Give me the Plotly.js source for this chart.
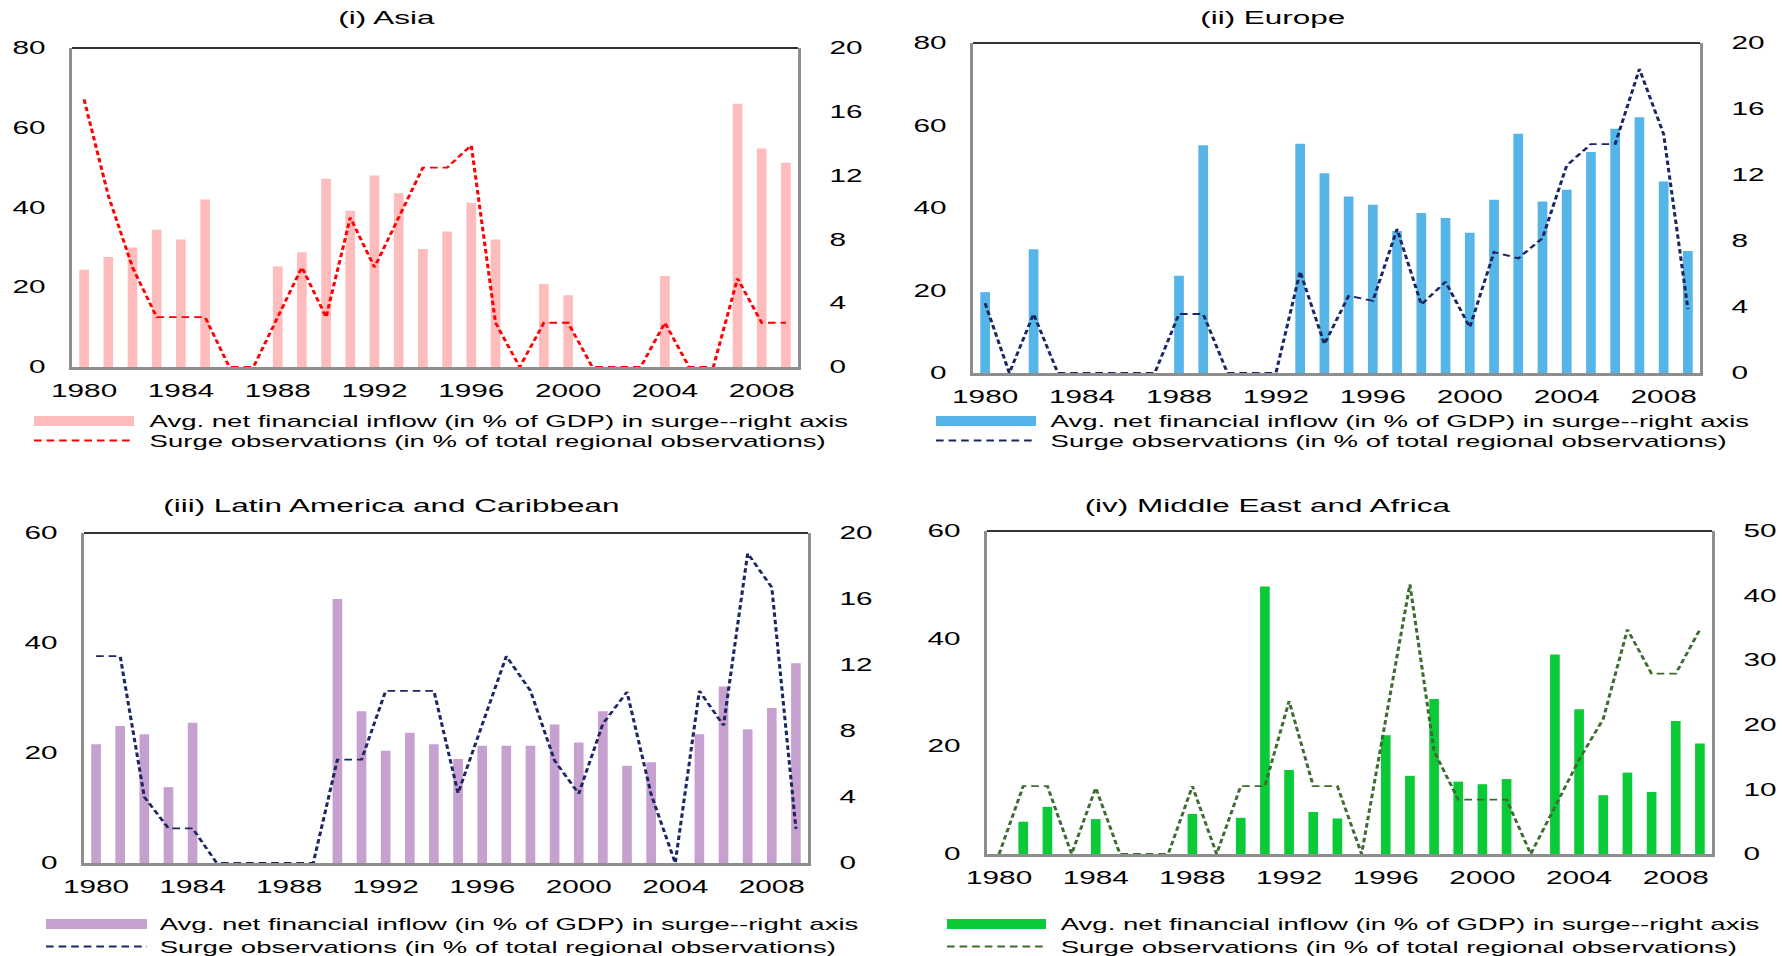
<!DOCTYPE html>
<html><head><meta charset="utf-8">
<script src="https://cdn.plot.ly/plotly-3.0.1.min.js"></script>
<style>
html,body{margin:0;padding:0;overflow:hidden;background:#fff}
#wrap{width:1050px;height:956px;transform:scaleX(1.7);transform-origin:0 0}
#chart{width:1050px;height:956px}
</style></head>
<body><div id="wrap"><div id="chart"></div></div>
<script>
// ---------------- data ----------------
const years = [1980,1981,1982,1983,1984,1985,1986,1987,1988,1989,1990,1991,1992,1993,1994,1995,1996,1997,1998,1999,2000,2001,2002,2003,2004,2005,2006,2007,2008,2009];
const tickYears = [1980,1984,1988,1992,1996,2000,2004,2008];

const barLabel = 'Avg. net financial inflow (in % of GDP) in surge--right axis';
const lineLabel = 'Surge observations (in % of total regional observations)';

// (i) Asia
const asiaSurge  = [67.1,43,25,12.5,12.5,12.5,0,0,12.5,25,12.5,37.5,25,37.5,50,50,55.6,11.1,0,11.1,11.1,0,0,0,11.1,0,0,22.2,11.1,11.1];
const asiaInflow = [6.1,6.9,7.5,8.6,8.0,10.5,0,0,6.3,7.2,11.8,9.8,12.0,10.9,7.4,8.5,10.3,8.0,0,5.2,4.5,0,0,0,5.7,0,0,16.5,13.7,12.8];
// (ii) Europe
const europeSurge  = [16.9,0,14.3,0,0,0,0,0,14.3,14.3,0,0,0,24.6,7.0,18.7,17.5,34.9,16.6,22.1,11.1,29.3,27.8,32.7,50.3,55.5,55.5,73.7,57.9,15.5];
const europeInflow = [4.9,0,7.5,0,0,0,0,0,5.9,13.8,0,0,0,13.9,12.1,10.7,10.2,8.6,9.7,9.4,8.5,10.5,14.5,10.4,11.1,13.4,14.8,15.5,11.6,7.4];
// (iii) Latin America and Caribbean
const latamSurge  = [37.6,37.6,12.0,6.3,6.3,0,0,0,0,0,18.8,18.8,31.3,31.3,31.3,12.7,25,37.6,31.3,18.6,12.6,25.3,31.1,12.5,0,31.3,25,56.3,50.1,6.2];
const latamInflow = [7.2,8.3,7.8,4.6,8.5,0,0,0,0,0,16.0,9.2,6.8,7.9,7.2,6.3,7.1,7.1,7.1,8.4,7.3,9.2,5.9,6.1,0,7.8,10.7,8.1,9.4,12.1];
// (iv) Middle East and Africa
const meaSurge  = [0,12.6,12.6,0,12.3,0,0,0,12.6,0,12.6,12.6,28.4,12.6,12.6,0,25,50.1,19.1,10.1,10.1,10.1,0,8.6,17.5,25.1,41.7,33.5,33.5,41.7];
const meaInflow = [0,5.0,7.3,0,5.4,0,0,0,6.2,0,5.6,41.4,13.0,6.5,5.5,0,18.4,12.1,24.0,11.2,10.8,11.6,0,30.9,22.4,9.1,12.6,9.6,20.6,17.1];

// ---------------- layout helpers ----------------
const FW = 1785, H = 956;
const px = x => x / FW;
const py = y => 1 - y / H;
const FONT = 'Liberation Sans, Arial, sans-serif';
const AXIS_GRAY = '#8e8e8e';

const panels = [
  {title:'(i) Asia', surge:asiaSurge, inflow:asiaInflow, bar:'#FFBCBC', line:'#FF0000',
   box:[72,798,48,367], left:[0,80], leftD:20, right:[0,20], rightD:4,
   tpos:[386,17], leg:{x0:34,x1:134,tx:146,r1:421,r2:440.5}},
  {title:'(ii) Europe', surge:europeSurge, inflow:europeInflow, bar:'#55B5E8', line:'#1C2660',
   box:[973,1700,43,373], left:[0,80], leftD:20, right:[0,20], rightD:4,
   tpos:[1272,17], leg:{x0:936,x1:1036,tx:1047,r1:421,r2:440.5}},
  {title:'(iii) Latin America and Caribbean', surge:latamSurge, inflow:latamInflow, bar:'#C6A0CF', line:'#1C2660',
   box:[84,808,533,863], left:[0,60], leftD:20, right:[0,20], rightD:4,
   tpos:[391,505], leg:{x0:46,x1:147,tx:157,r1:924,r2:946.5}},
  {title:'(iv) Middle East and Africa', surge:meaSurge, inflow:meaInflow, bar:'#0ACB37', line:'#3E6B30',
   box:[987,1712,531,854], left:[0,60], leftD:20, right:[0,50], rightD:10,
   tpos:[1268,505], leg:{x0:947,x1:1046,tx:1058,r1:924,r2:946.5}}
];

const data = [];
const layout = {
  width:1050, height:956, margin:{l:0,r:0,t:0,b:0},
  paper_bgcolor:'#fff', plot_bgcolor:'rgba(0,0,0,0)',
  showlegend:false, font:{family:FONT, color:'#000', size:17.5},
  shapes:[], annotations:[]
};

panels.forEach((p, i) => {
  const xs = i === 0 ? '' : String(i + 1);
  const yb = 2 * i + 1 === 1 ? '' : String(2 * i + 1);
  const yl = String(2 * i + 2);
  const xId = 'x' + xs, ybId = 'y' + yb, ylId = 'y' + yl;
  const [l, r, t, b] = p.box;

  data.push({type:'bar', name:barLabel, x:years, y:p.inflow, xaxis:xId, yaxis:ybId,
             marker:{color:p.bar, line:{width:0}}, width:0.4, hoverinfo:'x+y'});
  data.push({type:'scatter', mode:'lines', name:lineLabel, x:years, y:p.surge, xaxis:xId, yaxis:ylId,
             line:{color:p.line, width:1.8, dash:'4.5px,2.9px'}, hoverinfo:'x+y'});

  const common = {showgrid:false, zeroline:false, ticks:'', showline:true, linecolor:AXIS_GRAY,
                  tickfont:{family:FONT, size:17.5, color:'#000'}, fixedrange:true};
  layout['xaxis' + xs] = Object.assign({}, common, {
    domain:[px(l), px(r)], anchor:ybId, range:[1979.5, 2009.5],
    tickmode:'array', tickvals:tickYears, linewidth:3, ticklabelstandoff:6
  });
  layout['yaxis' + yb] = Object.assign({}, common, {
    domain:[py(b), py(t)], anchor:xId, side:'right', range:p.right, dtick:p.rightD,
    tickmode:'linear', tick0:0, linewidth:2, ticklabelstandoff:13
  });
  layout['yaxis' + yl] = Object.assign({}, common, {
    overlaying:ybId, anchor:xId, side:'left', range:p.left, dtick:p.leftD,
    tickmode:'linear', tick0:0, linewidth:2, ticklabelstandoff:10
  });

  // dark top border of the plot frame
  layout.shapes.push({type:'line', xref:xId + ' domain', yref:ybId + ' domain',
                      x0:0, x1:1, y0:1, y1:1, line:{color:'#333', width:2}});

  // panel title
  layout.annotations.push({text:p.title, xref:'paper', yref:'paper', x:px(p.tpos[0]), y:py(p.tpos[1]),
                           xanchor:'center', yanchor:'middle', showarrow:false,
                           font:{family:FONT, size:18.5, color:'#000'}});

  // legend (custom, below each panel)
  const g = p.leg;
  layout.shapes.push({type:'rect', xref:'paper', yref:'paper', x0:px(g.x0), x1:px(g.x1),
                      y0:py(g.r1 + 5), y1:py(g.r1 - 5), fillcolor:p.bar, line:{width:0}});
  layout.shapes.push({type:'line', xref:'paper', yref:'paper', x0:px(g.x0), x1:px(g.x1),
                      y0:py(g.r2), y1:py(g.r2), line:{color:p.line, width:1.8, dash:'4.5px,2.9px'}});
  layout.annotations.push({text:barLabel, xref:'paper', yref:'paper', x:px(g.tx), y:py(g.r1),
                           xanchor:'left', yanchor:'middle', showarrow:false,
                           font:{family:FONT, size:16.2, color:'#000'}});
  layout.annotations.push({text:lineLabel, xref:'paper', yref:'paper', x:px(g.tx), y:py(g.r2),
                           xanchor:'left', yanchor:'middle', showarrow:false,
                           font:{family:FONT, size:16.2, color:'#000'}});
});

Plotly.newPlot('chart', data, layout, {displayModeBar:false, staticPlot:true});
</script>
</body></html>
